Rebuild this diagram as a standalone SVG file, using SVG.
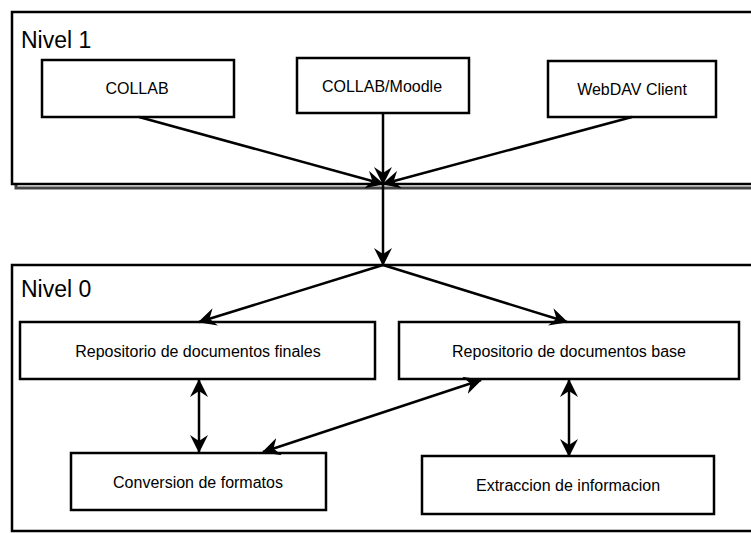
<svg xmlns="http://www.w3.org/2000/svg" width="751" height="533" viewBox="0 0 751 533">
<defs>
<style>
.box{fill:#fff;stroke:#000;stroke-width:2.5}
.lvl{fill:#fff;stroke:#000;stroke-width:2.5}
.t{font-family:"Liberation Sans",Arial,sans-serif;font-size:16px;fill:#000;text-anchor:middle}
.h{font-family:"Liberation Sans",Arial,sans-serif;font-size:23px;fill:#000}
.c{fill:none;stroke:#000;stroke-width:2.5}
</style>
<marker id="ah" viewBox="0 0 18 18" refX="17" refY="9" markerWidth="18" markerHeight="18" markerUnits="userSpaceOnUse" orient="auto-start-reverse">
<path d="M0,0 L18,9 L0,18 L6,9 z" fill="#000"/>
</marker>
</defs>
<rect width="751" height="533" fill="#fff"/>
<g id="nivel1">
<rect x="16" y="16" width="740" height="172" fill="none" stroke="#444" stroke-width="3"/>
<rect class="lvl" x="12" y="12" width="745" height="172"/>
<text class="h" x="21" y="48">Nivel 1</text>
</g>
<g id="nivel0">
<rect class="lvl" x="12" y="265" width="745" height="266"/>
<text class="h" x="21" y="297">Nivel 0</text>
</g>
<g id="collab">
<rect class="box" x="42" y="60" width="192" height="57"/>
<text class="t" x="137" y="94">COLLAB</text>
</g>
<g id="moodle">
<rect class="box" x="297" y="58" width="172" height="55"/>
<text class="t" x="382" y="92">COLLAB/Moodle</text>
</g>
<g id="webdav">
<rect class="box" x="548" y="61" width="168" height="56"/>
<text class="t" x="632" y="95">WebDAV Client</text>
</g>
<g id="finales">
<rect class="box" x="20" y="322" width="355" height="57"/>
<text class="t" x="198" y="357">Repositorio de documentos finales</text>
</g>
<g id="base">
<rect class="box" x="399" y="322" width="340" height="57"/>
<text class="t" x="569" y="357">Repositorio de documentos base</text>
</g>
<g id="conversion">
<rect class="box" x="71" y="453" width="255" height="57"/>
<text class="t" x="198" y="488">Conversion de formatos</text>
</g>
<g id="extraccion">
<rect class="box" x="422" y="456" width="292" height="58"/>
<text class="t" x="568" y="491">Extraccion de informacion</text>
</g>
<g id="connectors">
<line class="c" x1="139" y1="117" x2="383" y2="184" marker-end="url(#ah)"/>
<line class="c" x1="383" y1="113" x2="383" y2="184" marker-end="url(#ah)"/>
<line class="c" x1="632" y1="117" x2="383" y2="184" marker-end="url(#ah)"/>
<line class="c" x1="383" y1="184" x2="383" y2="265" marker-end="url(#ah)"/>
<line class="c" x1="383" y1="265" x2="199" y2="322" marker-end="url(#ah)"/>
<line class="c" x1="383" y1="265" x2="567" y2="322" marker-end="url(#ah)"/>
<line class="c" x1="199" y1="380" x2="199" y2="452" marker-start="url(#ah)" marker-end="url(#ah)"/>
<line class="c" x1="481" y1="380" x2="263" y2="452" marker-start="url(#ah)" marker-end="url(#ah)"/>
<line class="c" x1="569" y1="380" x2="569" y2="456" marker-start="url(#ah)" marker-end="url(#ah)"/>
</g>
</svg>
